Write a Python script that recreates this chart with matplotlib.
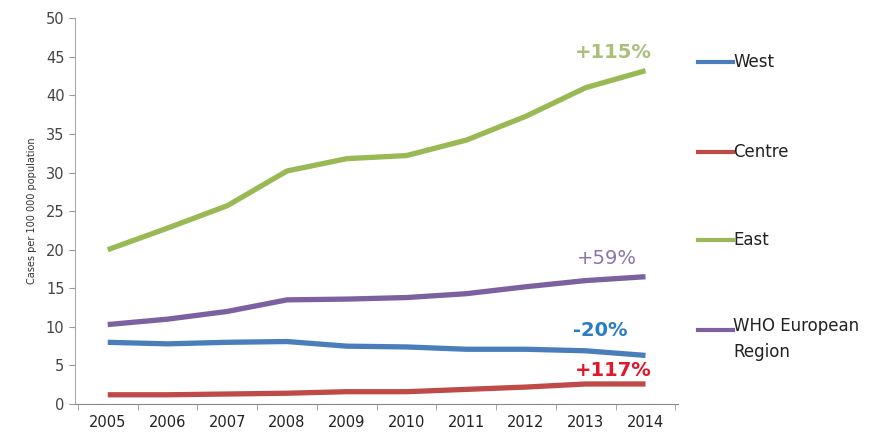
import matplotlib.pyplot as plt

years = [2005, 2006, 2007, 2008, 2009, 2010, 2011, 2012, 2013, 2014]
west = [8.0, 7.8, 8.0, 8.1, 7.5, 7.4, 7.1, 7.1, 6.9, 6.3]
centre = [1.2, 1.2, 1.3, 1.4, 1.6, 1.6, 1.9, 2.2, 2.6, 2.6]
east = [20.0, 22.8, 25.7, 30.2, 31.8, 32.2, 34.2, 37.3, 41.0, 43.2]
who = [10.3, 11.0, 12.0, 13.5, 13.6, 13.8, 14.3, 15.2, 16.0, 16.5]
names = ["West", "Centre", "East", "WHO European\nRegion"]
changes = ["-20%", "+117%", "+115%", "+59%"]

colors = ["#4a7ebb", "#be4b48", "#98b954", "#7d60a0"]
label_colors = ["#2a7cc4", "#e0182b", "#a9bf7a", "#8a75b0"]
label_weights = ["bold", "bold", "bold", "normal"]
# (x, y) of the right edge / centre of each change label, in data units
label_pos = [(8.7, 9.5), (9.1, 4.4), (9.1, 45.6), (8.86, 18.9)]

fig = plt.figure(figsize=(8.81, 4.44), dpi=100)
ax = fig.add_axes([0.085, 0.09, 0.685, 0.869])

x = list(range(len(years)))
for vals, col, pct, pcol, w, (px, py) in zip([west, centre, east, who], colors, changes,
                                            label_colors, label_weights, label_pos):
    ax.plot(x, vals, color=col, linewidth=3.8, solid_capstyle='butt')
    ax.text(px, py, pct, color=pcol, fontsize=14, fontweight=w,
            ha='right', va='center')

ax.set_xlim(-0.55, 9.55)
ax.set_ylim(0, 50)
ax.set_yticks(range(0, 51, 5))
ax.set_xticks(x)
ax.set_xticklabels([str(y) for y in years], fontsize=10.5, color='#222222')
ax.tick_params(axis='y', labelsize=10.5, colors='#444444', length=4, color='#999999')
ax.tick_params(axis='x', length=0, pad=8)
ax.set_xticks([i + 0.5 for i in range(-1, 10)], minor=True)
ax.tick_params(axis='x', which='minor', length=4, color='#999999')
for s in ['top', 'right']:
    ax.spines[s].set_visible(False)
ax.spines['left'].set_color('#aaaaaa')
ax.spines['bottom'].set_color('#888888')
ax.set_ylabel('Cases per 100 000 population', fontsize=7, color='#333333', labelpad=6)

# legend on the right
leg_y = [0.861, 0.658, 0.459, 0.256]
for name, col, ly in zip(names, colors, leg_y):
    fig.lines.append(plt.Line2D([0.792, 0.832], [ly, ly], color=col, linewidth=3,
                                transform=fig.transFigure))
    if '\n' in name:
        fig.text(0.832, ly + 0.03, name, fontsize=12, color='#222222', va='top',
                 ha='left', linespacing=1.55)
    else:
        fig.text(0.832, ly, name, fontsize=12, color='#222222', va='center', ha='left')

fig.savefig('out.png', dpi=100)
